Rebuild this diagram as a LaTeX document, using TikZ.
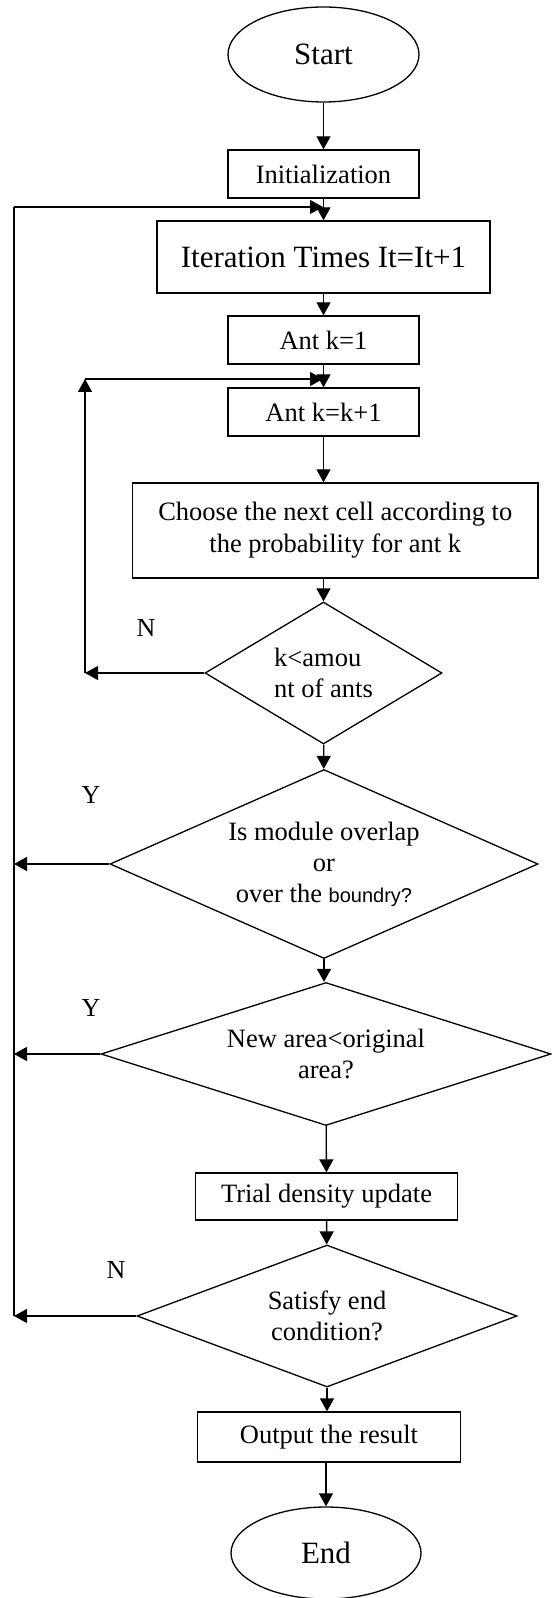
\documentclass[tikz,border=0pt]{standalone}
\usepackage{fontspec}
\setmainfont{Liberation Serif}
\newfontfamily\boxsans{Liberation Sans}
\usetikzlibrary{shapes.geometric,arrows.meta}
\tikzset{
	box/.style={draw, rectangle, inner sep=0pt, line width=0.65pt, font=\fontsize{13.25pt}{16pt}\selectfont},
	term/.style={draw, ellipse, inner sep=0pt, line width=0.65pt, font=\fontsize{15.5pt}{18pt}\selectfont},
	decide/.style={draw, diamond, inner sep=0pt, line width=0.65pt, font=\fontsize{13.25pt}{15.5pt}\selectfont},
	lbl/.style={inner sep=0pt, font=\fontsize{13pt}{16pt}\selectfont},
	flow/.style={line width=0.65pt, -{Triangle[length=6.5pt,width=7pt]}},
	wire/.style={line width=0.65pt}
}
\begin{document}
\begin{tikzpicture}[x=0.5pt, y=-0.5pt]
	%%%%% START %%%%%
	\useasboundingbox (0, 0) rectangle (551, 1598);
	
	\node[term, minimum width=95.5pt, minimum height=47.5pt] (start) at (323.5, 54.5) {Start};
	\node[box, minimum width=95.5pt, minimum height=24pt] (init) at (323.5, 174) {Initialization};
	\node[box, font=\fontsize{15.5pt}{18pt}\selectfont, minimum width=166.5pt, minimum height=36pt] (iter) at (323.5, 257) {Iteration Times It=It+1};
	\node[box, minimum width=95.5pt, minimum height=24pt] (antone) at (323.5, 340) {Ant k=1};
	\node[box, minimum width=95.5pt, minimum height=24pt] (antnext) at (323.5, 412) {Ant k=k+1};
	\node[box, align=center, minimum width=202.75pt, minimum height=47.5pt] (choose) at (335.25, 530.5) {Choose the next cell according to\\the probability for ant k};
	
	\node[decide, align=left, aspect=1.67, minimum width=118.5pt, minimum height=71pt] (ants) at (323.5, 673) {k<amou\\nt of ants};
	\node[decide, align=center, aspect=2.26, minimum width=214pt, minimum height=94.5pt] (overlap) at (324, 864) {Is module overlap\\or\\over the {\boxsans\fontsize{10pt}{15.5pt}\selectfont boundry?}};
	\node[decide, align=center, aspect=3.15, minimum width=225pt, minimum height=71.5pt] (area) at (326, 1054) {New area<original\\area?};
	
	\node[box, minimum width=131pt, minimum height=23.5pt] (trial) at (326.5, 1196.5) {Trial density update};
	\node[decide, align=center, aspect=2.68, minimum width=190pt, minimum height=71pt] (endcond) at (327, 1316) {Satisfy end\\condition?};
	\node[box, minimum width=131.25pt, minimum height=25pt] (output) at (329, 1437) {Output the result};
	\node[term, minimum width=95pt, minimum height=46pt] (stop) at (326, 1553) {End};
	
	\node[lbl] (nants) at (146, 628) {N};
	\node[lbl] (yoverlap) at (91, 795) {Y};
	\node[lbl] (yarea) at (91, 1008) {Y};
	\node[lbl] (nend) at (116, 1270) {N};
	
	\coordinate (outer) at (323, 207);
	\coordinate (inner) at (323, 379);
	\coordinate (outerc) at (14, 207);
	\coordinate (innerc) at (85, 379);
	\coordinate (innerb) at (85, 673);
	
	\draw[flow] (start.south) -- (init.north);
	\draw[flow] (init) -- (iter);
	\draw[flow] (iter) -- (antone);
	\draw[flow] (antone) -- (antnext);
	\draw[flow] (antnext.south) -- (antnext.south |- choose.north);
	\draw[flow] (antnext.south |- choose.south) -- (ants.north);
	\draw[flow] (ants) -- (overlap);
	\draw[flow] (overlap.south) -- (overlap.south |- area.north);
	\draw[flow] (area) -- (trial);
	\draw[flow] (trial) -- (endcond);
	\draw[flow] (endcond.south) -- (endcond.south |- output.north);
	\draw[flow] (stop.north |- output.south) -- (stop.north);
	
	\draw[flow] (ants.west) -- (innerb);
	\draw[flow] (innerb) -- (innerc);
	\draw[flow] (innerc) -- (inner);
	
	\draw[flow] (overlap.west) -- (overlap.west -| outerc);
	\draw[flow] (area.west) -- (area.west -| outerc);
	\draw[flow] (endcond.west) -- (endcond.west -| outerc);
	\draw[wire] (endcond.west -| outerc) -- (outerc);
	\draw[flow] (outerc) -- (outer);
	
	%%%%% END %%%%%
\end{tikzpicture}
\end{document}
